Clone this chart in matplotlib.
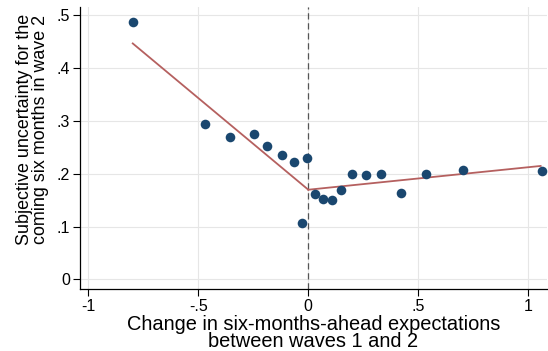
import matplotlib
matplotlib.use("Agg")
import matplotlib.pyplot as plt

plt.rcParams['font.family'] = ['Liberation Sans', 'DejaVu Sans']

# Binned scatter data
x_vals = [-0.798, -0.470, -0.356, -0.248, -0.186, -0.118, -0.065, -0.006, -0.030,
          0.029, 0.067, 0.106, 0.147, 0.199, 0.264, 0.332, 0.420, 0.535, 0.702, 1.061]
y_vals = [0.487, 0.294, 0.270, 0.276, 0.252, 0.235, 0.222, 0.230, 0.107,
          0.162, 0.152, 0.150, 0.170, 0.200, 0.198, 0.200, 0.164, 0.199, 0.208, 0.205]

# Piecewise linear fit lines (endpoints)
fit_left_x = [-0.798, 0.0]
fit_left_y = [0.447, 0.170]
fit_right_x = [0.0, 1.056]
fit_right_y = [0.170, 0.215]

xticks = [-1, -0.5, 0, 0.5, 1]
xtick_labels = ['-1', '-.5', '0', '.5', '1']
yticks = [0, 0.1, 0.2, 0.3, 0.4, 0.5]
ytick_labels = ['0', '.1', '.2', '.3', '.4', '.5']

fig = plt.figure(figsize=(5.48, 3.51), dpi=100)
ax = fig.add_axes([79.5/548, 1 - 289/351, (547 - 79.5)/548, (289 - 7)/351])

ax.set_xlim(-1.04, 1.085)
ax.set_ylim(-0.018, 0.516)

for t in xticks:
    ax.axvline(t, color='#e6e6e6', lw=0.8, zorder=0)
for t in yticks:
    ax.axhline(t, color='#e6e6e6', lw=0.8, zorder=0)

ax.axvline(0, color='#555555', lw=0.9, ls=(0, (5, 3)), zorder=1)

ax.plot(fit_left_x, fit_left_y, color='#b5605f', lw=1.3, zorder=2)
ax.plot(fit_right_x, fit_right_y, color='#b5605f', lw=1.3, zorder=2)
ax.scatter(x_vals, y_vals, s=48, color='#1a476f', zorder=3, linewidths=0)

ax.set_xticks(xticks)
ax.set_xticklabels(xtick_labels)
ax.set_yticks(yticks)
ax.set_yticklabels(ytick_labels)
ax.tick_params(axis='both', labelsize=11.5, length=5, width=0.8, color='black', pad=2)

for s in ['top', 'right']:
    ax.spines[s].set_visible(False)
for s in ['left', 'bottom']:
    ax.spines[s].set_linewidth(0.9)

ax.set_xlabel('Change in six-months-ahead expectations\nbetween waves 1 and 2', fontsize=14.4,
              linespacing=0.9, multialignment='center')
ax.xaxis.label.set_verticalalignment('top')
ax.xaxis.set_label_coords(0.5, -0.092)
ax.set_ylabel('Subjective uncertainty for the\ncoming six months in wave 2', fontsize=12.9,
              linespacing=0.95, multialignment='center')
ax.yaxis.label.set_verticalalignment('center')
ax.yaxis.set_label_coords(-0.1, 0.565)

fig.savefig('out.png', dpi=100, facecolor='white')
